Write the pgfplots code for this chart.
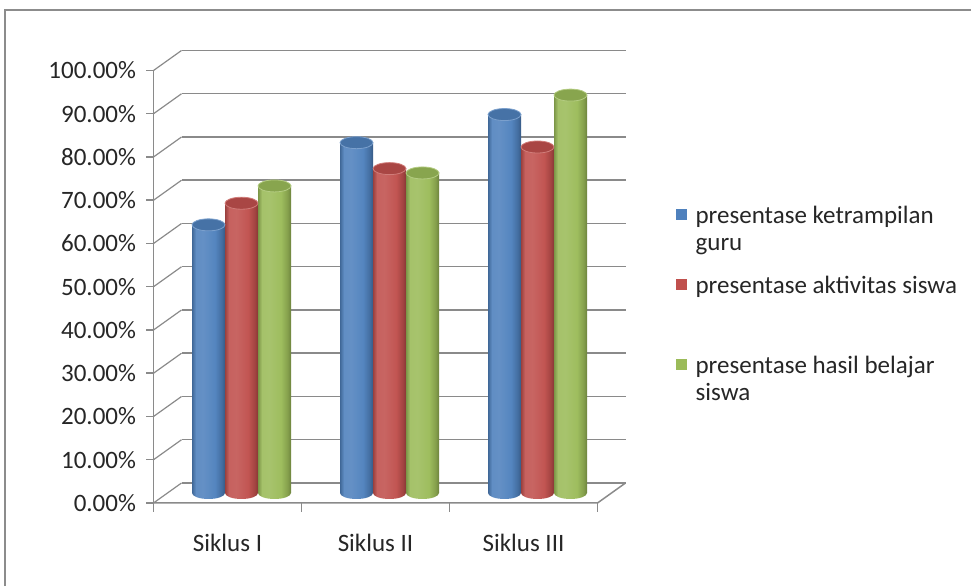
\documentclass[border=0pt]{standalone}
\usepackage{fontspec}
\setmainfont{Carlito}
\usepackage{pgfplots}
\usepackage{pgfplotstable}
\pgfplotsset{compat=1.18}
\usetikzlibrary{shapes.geometric}

\definecolor{barblue}{HTML}{4F81BD}
\definecolor{barred}{HTML}{C0504D}
\definecolor{bargreen}{HTML}{9BBB59}
\definecolor{gridgray}{HTML}{8A8A8A}
\definecolor{framegray}{HTML}{8C8C8C}
\definecolor{txt}{HTML}{262626}

% cylinder-like shadings for the bars (bbox maps to 25bp..75bp)
\newcommand\cylshading[2]{%
  \pgfdeclarehorizontalshading{#1}{100bp}{%
    color(0bp)=(#2!78!black); color(25bp)=(#2!80!black);
    color(31bp)=(#2!90!white); color(42bp)=(#2!88!white);
    color(60bp)=(#2!97!white); color(70bp)=(#2!85!black);
    color(75bp)=(#2!70!black); color(100bp)=(#2!70!black)}}
\cylshading{cylblue}{barblue}
\cylshading{cylred}{barred}
\cylshading{cylgreen}{bargreen}

% persentase per siklus
\pgfplotstableread{
x guru aktivitas hasil
0 62.0 67.0 71.0
1 81.0 75.0 74.0
2 87.5 80.0 92.0
}\datatable

% front and back planes of the 3-D box, offset from the middle plane
\tikzset{
  front/.style={xshift=-14pt, yshift=-10pt},
  back/.style={xshift=14pt, yshift=10pt},
  cyltop/.style={ellipse, anchor=center, inner sep=0pt,
    minimum width=33pt, minimum height=12pt, line width=0.8pt,
    fill=#1!88!black, draw=#1!75!white},
  cylbase/.style={ellipse, anchor=center, inner sep=0pt,
    minimum width=33pt, minimum height=12pt, draw=none,
    shade, shading=#1},
}

% one shaded cylinder per category: #1 column, #2 shading, #3 colour, #4 shift
% (4.325pt per percent on the y axis)
\newcommand\cylbars[4]{%
  \pgfplotsinvokeforeach{0,1,2}{%
    \addplot[ybar, bar width=33pt, bar shift=#4, draw=none, fill=none,
      forget plot, restrict x to domain=##1:##1,
      visualization depends on={rawy \as \rawy},
      nodes near coords={},
      every node near coord/.append style={cylbase=#2, xshift=#4, yshift=-4.325pt*\rawy}]
      table[x=x, y=#1] {\datatable};
    \addplot[ybar, bar width=33pt, bar shift=#4, draw=none, shade, shading=#2,
      forget plot, restrict x to domain=##1:##1,
      nodes near coords={},
      every node near coord/.append style={cyltop=#3, xshift=#4}]
      table[x=x, y=#1] {\datatable};
  }}

\begin{document}
\begin{tikzpicture}[x=1pt,y=1pt]
\path[use as bounding box] (0,0) rectangle (971,586);
\draw[framegray, line width=2pt] (5,0) -- (5,576) -- (971,576);
\begin{axis}[
  at={(167.5pt,93pt)}, anchor=south west,
  scale only axis, width=444pt, height=432.5pt,
  xmin=-0.5, xmax=2.5, ymin=0, ymax=100,
  clip=false,
  axis line style={draw=none},
  tick style={draw=none},
  ytick pos=left, xtick pos=bottom,
  xtick={0,1,2},
  xticklabels={Siklus I, Siklus II, Siklus III},
  ytick={0,10,...,100},
  yticklabels={0.00\%,10.00\%,20.00\%,30.00\%,40.00\%,50.00\%,60.00\%,70.00\%,80.00\%,90.00\%,100.00\%},
  every tick label/.append style={font=\fontsize{25}{27}\selectfont, text=txt},
  yticklabel style={xshift=-28pt, yshift=-10pt},
  xticklabel style={xshift=-14pt, yshift=-38pt},
  legend style={at={(1.1453,0.668)}, anchor=north west, draw=none, fill=none,
    inner sep=0pt, font=\fontsize{25}{27}\selectfont, text=txt,
    row sep=0pt, column sep=9pt,
    nodes={inner sep=0pt, text depth=0pt}, cells={anchor=base west}},
]
% back wall, side wall and floor
\pgfplotsinvokeforeach{0,10,...,100}{
  \draw[gridgray, line width=1.5pt] ([back]axis cs:-0.5,#1) -- ([back]axis cs:2.5,#1);
  \draw[gridgray, line width=1.2pt] ([front]axis cs:-0.5,#1) -- ([back]axis cs:-0.5,#1);
  \draw[gridgray, line width=1.5pt] ([front]axis cs:-0.5,#1) -- ([front,xshift=-8pt]axis cs:-0.5,#1);
}
\draw[gridgray, line width=1.5pt] ([front]axis cs:-0.5,0) -- ([front]axis cs:-0.5,100);
\draw[gridgray, line width=1.5pt] ([front]axis cs:-0.5,0) -- ([front]axis cs:2.5,0) -- ([back]axis cs:2.5,0);
\pgfplotsinvokeforeach{-0.5,0.5,1.5,2.5}{
  \draw[gridgray, line width=1.5pt] ([front]axis cs:#1,0) -- ([front,yshift=-9pt]axis cs:#1,0);
}

\cylbars{guru}{cylblue}{barblue}{-33pt}
\cylbars{aktivitas}{cylred}{barred}{0pt}
\cylbars{hasil}{cylgreen}{bargreen}{33pt}

\addlegendimage{legend image code/.code={\fill[barblue] (0pt,4pt) rectangle (10pt,14pt);}}
\addlegendentry{\begin{tabular}[t]{@{}l@{}}presentase ketrampilan\\guru\end{tabular}}
\addlegendimage{legend image code/.code={\fill[barred] (0pt,4pt) rectangle (10pt,14pt);}}
\addlegendentry{\rule{0pt}{70pt}presentase aktivitas siswa}
\addlegendimage{legend image code/.code={\fill[bargreen] (0pt,4pt) rectangle (10pt,14pt);}}
\addlegendentry{\rule{0pt}{80pt}\begin{tabular}[t]{@{}l@{}}presentase hasil belajar\\siswa\end{tabular}}
\end{axis}
\end{tikzpicture}
\end{document}
